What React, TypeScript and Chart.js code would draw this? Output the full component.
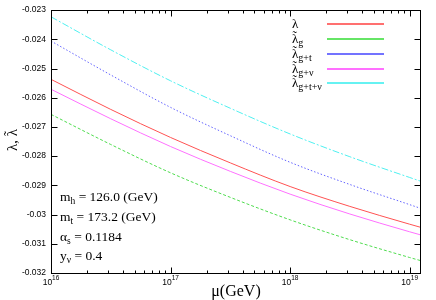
import React, { useEffect, useRef } from "react";
import { Chart, registerables } from "chart.js";
Chart.register(...registerables);

// energy scale mu (GeV)
const muValues = [1e16, 3.16e16, 1e17, 3.16e17, 1e18, 3.16e18, 1e19, 1.22e19];

// couplings
const lambda = [-0.02537, -0.0264, -0.02736, -0.02823, -0.02904, -0.02972, -0.03033, -0.03043];
const lambdaG = [-0.02657, -0.0276, -0.02857, -0.02941, -0.03018, -0.03086, -0.03147, -0.03157];
const lambdaGT = [-0.02406, -0.02522, -0.02633, -0.0273, -0.02821, -0.02897, -0.02966, -0.02978];
const lambdaGV = [-0.02571, -0.02672, -0.02767, -0.02852, -0.0293, -0.02998, -0.03059, -0.03069];
const lambdaGTV = [-0.02323, -0.02436, -0.02542, -0.02636, -0.02724, -0.02802, -0.02873, -0.02885];

const seriesSubs = ["", "g", "g+t", "g+ν", "g+t+ν"];
const seriesTilde = [false, true, true, true, true];
const seriesColors = ["#ff5252", "#4fdc4f", "#6464ff", "#ff70ff", "#4ff0f0"];
const legendColors = ["#ff4040", "#33dd33", "#4545ff", "#ff40ff", "#33eeee"];
const seriesDash: number[][] = [[], [3, 2], [1.5, 2], [], [7, 2, 2, 2]];

const xMajorTicks = [1e16, 1e17, 1e18, 1e19];
const xMajorExponents = ["16", "17", "18", "19"];
const xMinorMultipliers = [2, 3, 4, 5, 6, 7, 8, 9];
const yMin = -0.032;
const yMax = -0.023;
const yStep = 0.001;

const annotations = [
  { base: "m", sub: "h", rest: " = 126.0 (GeV)" },
  { base: "m", sub: "t", rest: " = 173.2 (GeV)" },
  { base: "α", sub: "s", rest: " = 0.1184" },
  { base: "y", sub: "ν", rest: " = 0.4" },
];

const SERIF = '"Liberation Serif", "Times New Roman", serif';
const SANS = '"Liberation Sans", Arial, sans-serif';

function drawLambda(ctx: CanvasRenderingContext2D, x: number, y: number, size: number, tilde: boolean) {
  ctx.font = `${size}px ${SERIF}`;
  ctx.textAlign = "left";
  ctx.fillText("λ", x, y);
  const w = ctx.measureText("λ").width;
  if (tilde) {
    ctx.textAlign = "center";
    ctx.fillText("˜", x + w * 0.42, y - size * 0.2);
    ctx.textAlign = "left";
  }
  return w;
}

const decor = {
  id: "gnuplotDecor",
  afterDraw(chart: any) {
    const { ctx, chartArea: a, scales } = chart;
    const xs = scales.x;
    const ys = scales.y;
    const L = Math.round(a.left) + 0.5;
    const R = Math.round(a.right) + 0.5;
    const T = Math.round(a.top) + 0.5;
    const B = Math.round(a.bottom) + 0.5;
    ctx.save();
    ctx.strokeStyle = "#000";
    ctx.lineWidth = 1;
    ctx.setLineDash([]);
    ctx.strokeRect(L, T, R - L, B - T);

    // y ticks (left & right)
    ctx.beginPath();
    for (let v = yMin; v <= yMax + 1e-9; v += yStep) {
      const y = Math.round(ys.getPixelForValue(v)) + 0.5;
      ctx.moveTo(L, y);
      ctx.lineTo(L + 6, y);
      ctx.moveTo(R, y);
      ctx.lineTo(R - 6, y);
    }
    // x ticks (bottom & top)
    xMajorTicks.forEach((m) => {
      const x = Math.round(xs.getPixelForValue(m)) + 0.5;
      ctx.moveTo(x, B);
      ctx.lineTo(x, B - 6);
      ctx.moveTo(x, T);
      ctx.lineTo(x, T + 6);
      xMinorMultipliers.forEach((k) => {
        const v = m * k;
        if (v > xs.max) return;
        const xm = Math.round(xs.getPixelForValue(v)) + 0.5;
        ctx.moveTo(xm, B);
        ctx.lineTo(xm, B - 3);
        ctx.moveTo(xm, T);
        ctx.lineTo(xm, T + 3);
      });
    });
    ctx.stroke();

    // x tick labels 10^n
    ctx.fillStyle = "#000";
    ctx.textBaseline = "alphabetic";
    ctx.textAlign = "left";
    xMajorTicks.forEach((m, i) => {
      const x = xs.getPixelForValue(m);
      ctx.font = `8.5px ${SANS}`;
      const w1 = ctx.measureText("10").width;
      ctx.font = `6.5px ${SANS}`;
      const w2 = ctx.measureText(xMajorExponents[i]).width;
      const x0 = x - (w1 + w2) / 2;
      ctx.font = `8.5px ${SANS}`;
      ctx.fillText("10", x0, 285);
      ctx.font = `6.5px ${SANS}`;
      ctx.fillText(xMajorExponents[i], x0 + w1, 280);
    });

    // axis titles
    ctx.font = `16px ${SERIF}`;
    ctx.textAlign = "center";
    ctx.fillText("μ(GeV)", 236, 296);
    ctx.save();
    ctx.translate(17, 140);
    ctx.rotate(-Math.PI / 2);
    ctx.font = `15px ${SERIF}`;
    const wTitle = ctx.measureText("λ, λ").width;
    let tx = -wTitle / 2;
    ctx.textAlign = "left";
    ctx.fillText("λ, ", tx, 0);
    tx += ctx.measureText("λ, ").width;
    drawLambda(ctx, tx, 0, 15, true);
    ctx.restore();

    // legend
    const legendY = [24, 39, 53.5, 68.5, 83];
    ctx.textAlign = "left";
    legendY.forEach((ly, i) => {
      ctx.fillStyle = "#000";
      const wb = drawLambda(ctx, 292, ly + 4, 13, seriesTilde[i]);
      if (seriesSubs[i]) {
        ctx.font = `10px ${SERIF}`;
        ctx.fillText(seriesSubs[i], 292 + wb, ly + 7);
      }
    });
    legendY.forEach((ly, i) => {
      ctx.save();
      ctx.setLineDash([]);
      ctx.strokeStyle = legendColors[i];
      ctx.lineWidth = 1.5;
      ctx.beginPath();
      ctx.moveTo(327, Math.round(ly));
      ctx.lineTo(384, Math.round(ly));
      ctx.stroke();
      ctx.restore();
    });

    // annotations
    const baselines = [201, 221, 241, 260];
    annotations.forEach((an, i) => {
      let x = 60;
      const y = baselines[i];
      ctx.fillStyle = "#000";
      ctx.textAlign = "left";
      ctx.font = `13.5px ${SERIF}`;
      ctx.fillText(an.base, x, y);
      x += ctx.measureText(an.base).width;
      ctx.font = `9.5px ${SERIF}`;
      ctx.fillText(an.sub, x, y + 3);
      x += ctx.measureText(an.sub).width;
      ctx.font = `13.5px ${SERIF}`;
      ctx.fillText(an.rest, x, y);
    });
    ctx.restore();
  },
};

export default function App() {
  const ref = useRef<HTMLCanvasElement>(null);
  useEffect(() => {
    if (!ref.current) return;
    const all = [lambda, lambdaG, lambdaGT, lambdaGV, lambdaGTV];
    const chart = new Chart(ref.current, {
      type: "line",
      data: {
        datasets: all.map((arr, i) => ({
          label: "λ" + seriesSubs[i],
          data: arr.map((v, j) => ({ x: muValues[j], y: v })),
          borderColor: seriesColors[i],
          borderWidth: 1,
          borderDash: seriesDash[i],
          pointRadius: 0,
          fill: false,
          cubicInterpolationMode: "monotone" as const,
        })),
      },
      options: {
        responsive: false,
        maintainAspectRatio: false,
        animation: false,
        layout: { padding: { left: 0, top: 10, right: 16, bottom: 27 } },
        plugins: { legend: { display: false }, tooltip: { enabled: false } },
        scales: {
          x: {
            type: "logarithmic",
            min: 1e16,
            max: 1.22e19,
            display: false,
          },
          y: {
            type: "linear",
            min: yMin,
            max: yMax,
            grid: { display: false, drawTicks: false },
            border: { display: false },
            afterFit: (s: any) => {
              s.width = 51;
            },
            ticks: {
              stepSize: yStep,
              autoSkip: false,
              padding: 5,
              color: "#000",
              font: { size: 8.5, family: SANS },
              callback: (v: any) => String(parseFloat(Number(v).toFixed(3))),
            },
          },
        },
      },
      plugins: [decor],
    });
    return () => chart.destroy();
  }, []);
  return (
    <div style={{ position: "fixed", left: 0, top: 0, width: 436, height: 300, background: "#fff" }}>
      <canvas ref={ref} width={436} height={300} style={{ width: 436, height: 300 }} />
    </div>
  );
}
